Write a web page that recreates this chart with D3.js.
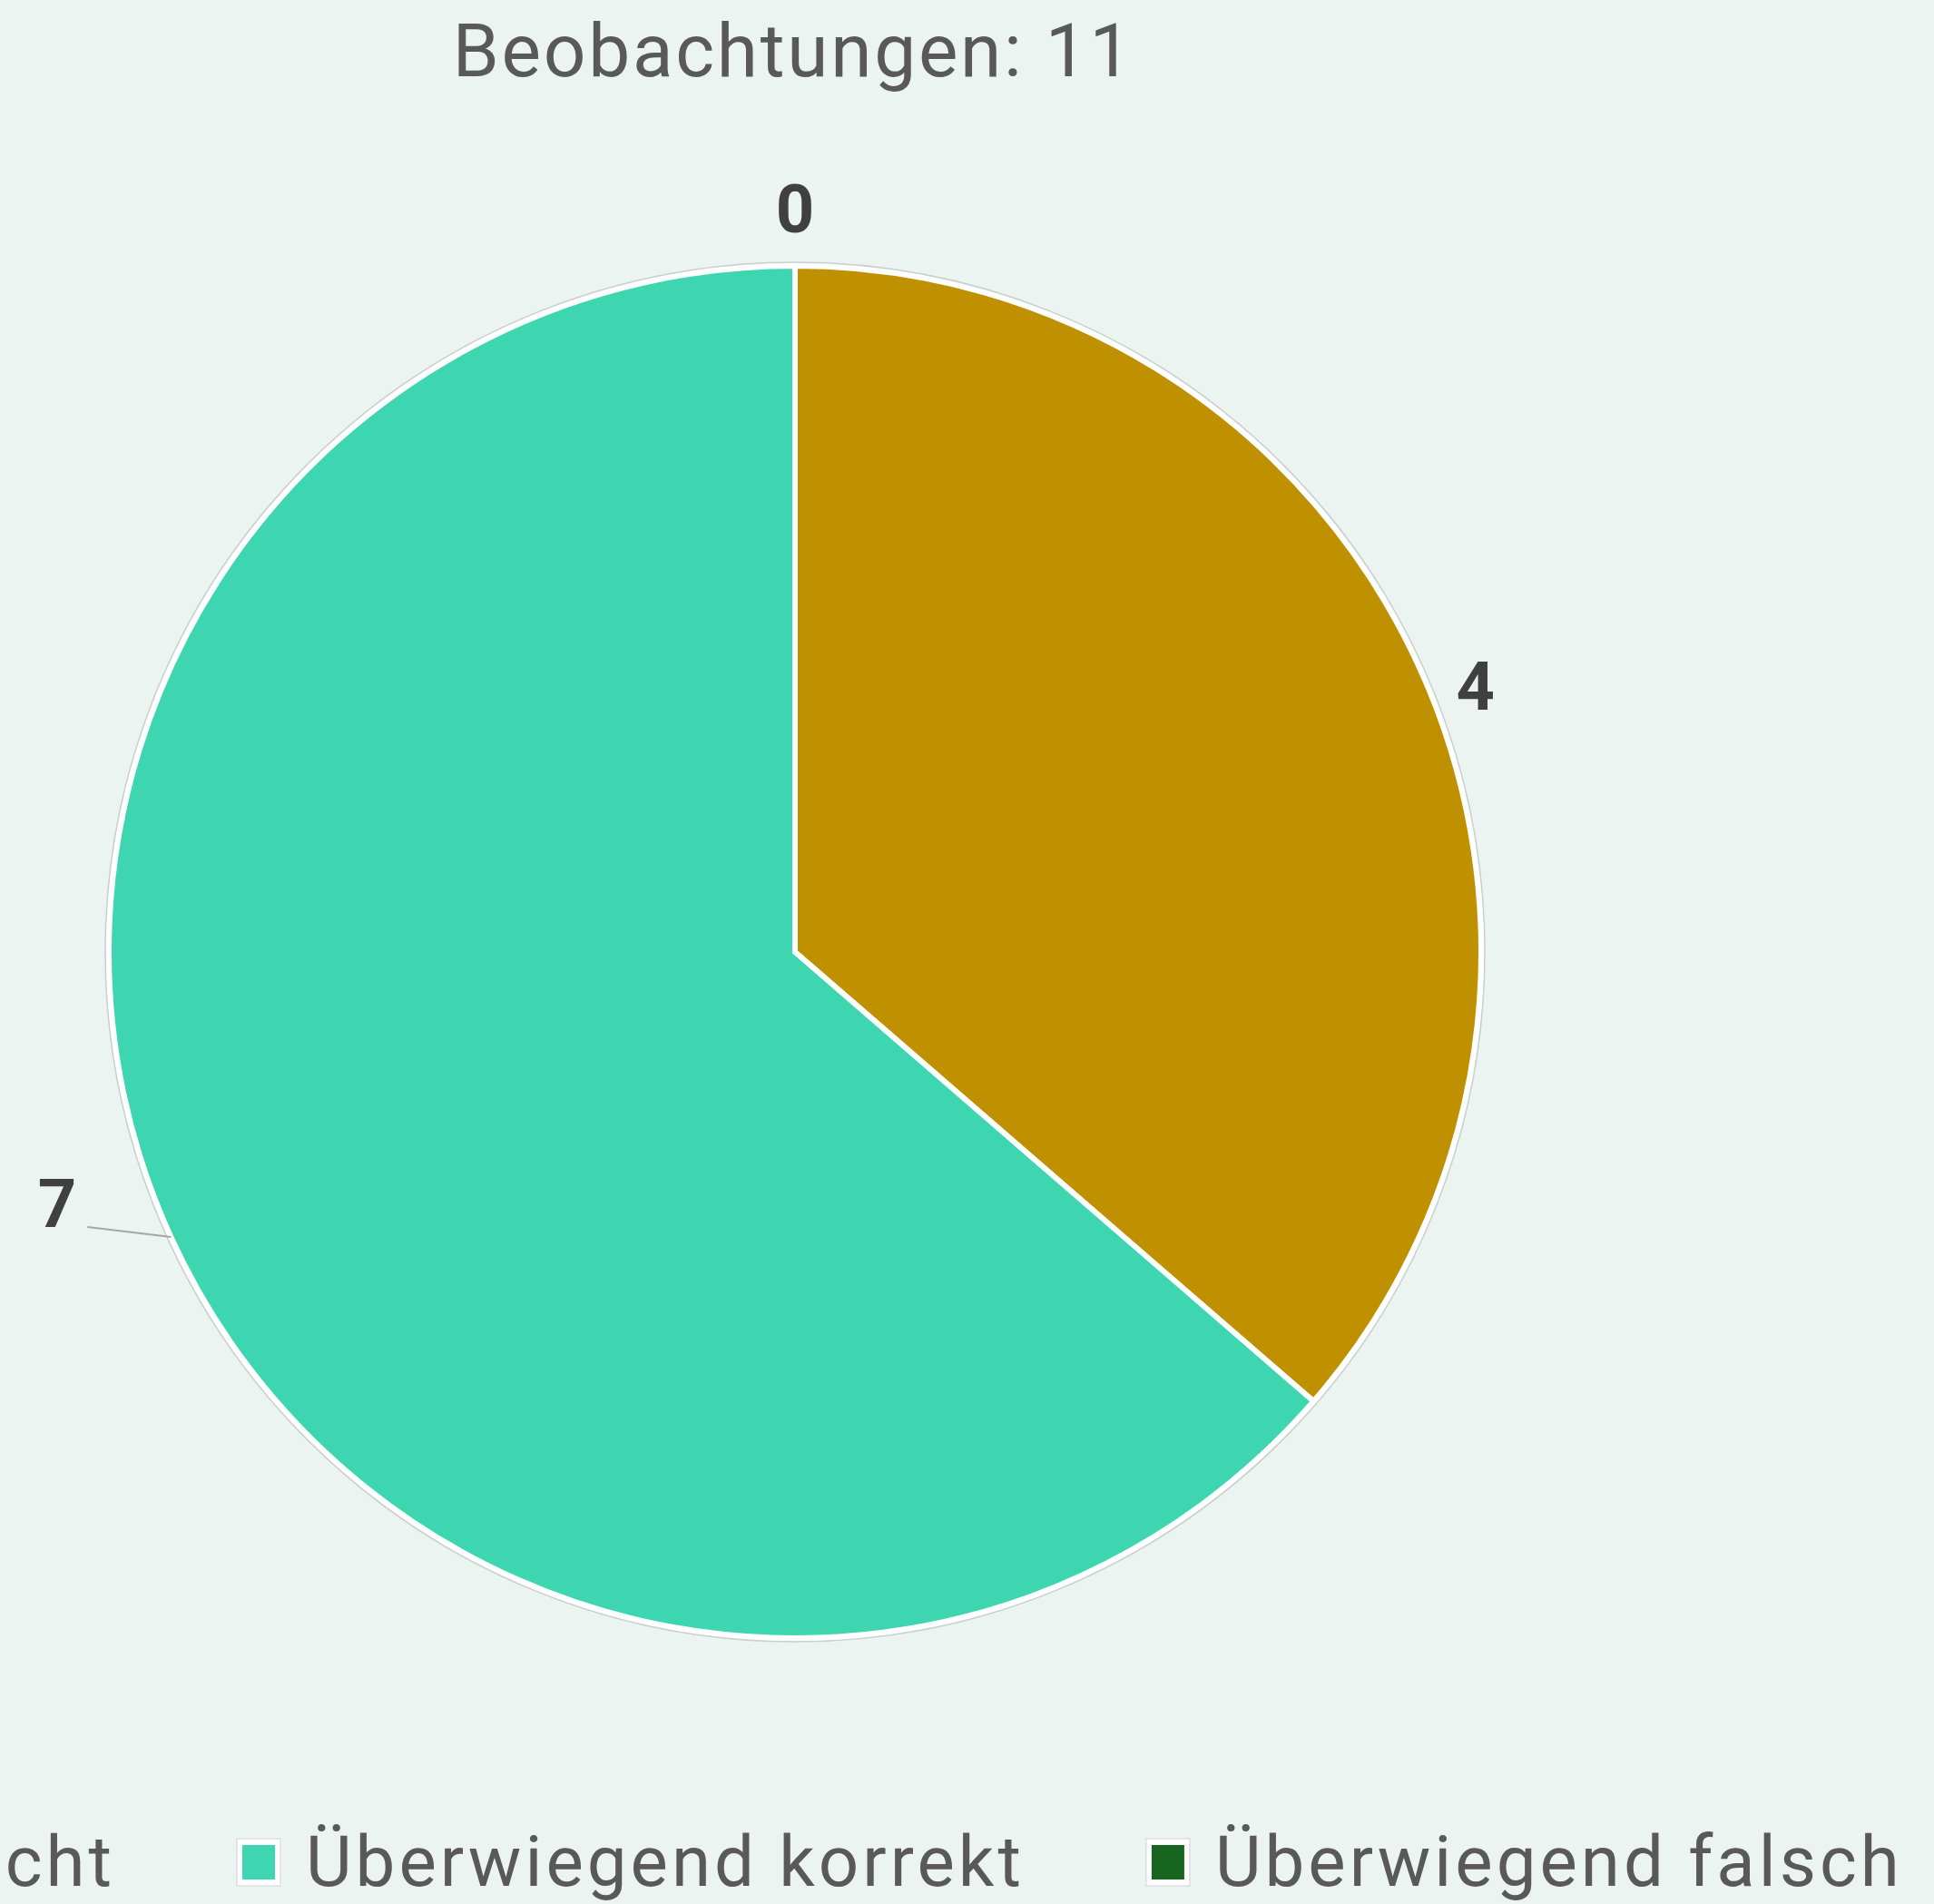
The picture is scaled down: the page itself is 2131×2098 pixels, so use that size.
<!DOCTYPE html>
<html lang="de">
<head>
<meta charset="UTF-8">
<title>Beobachtungen</title>
<script src="https://d3js.org/d3.v7.min.js"></script>
<style>
  html, body { margin: 0; padding: 0; background: #ecf4f2; overflow: hidden; }
  svg { display: block; }
</style>
</head>
<body>
<svg id="chart"></svg>
<script>
const categories = ["Nicht erreicht", "Überwiegend korrekt", "Überwiegend falsch"];
const values = [4, 7, 0];
const colors = ["#bf9000", "#3dd6b0", "#17651e"];
const title = "Beobachtungen: 11";

const width = 2131, height = 2098;
const cx = 876, cy = 1049, r = 756;
const fontFam = "Roboto, 'Liberation Sans', Arial, sans-serif";

const svg = d3.select("#chart").attr("width", width).attr("height", height);

svg.append("rect").attr("width", width).attr("height", height).attr("fill", "#ecf4f2");

svg.append("text")
  .attr("x", cx - 2).attr("y", 84)
  .attr("text-anchor", "middle")
  .attr("font-family", fontFam)
  .attr("font-size", 82)
  .attr("letter-spacing", 2.7)
  .attr("fill", "#595959")
  .text(title);

const pie = d3.pie().sort(null).value(d => d)(values);
const arc = d3.arc().innerRadius(0).outerRadius(r);

const g = svg.append("g").attr("transform", `translate(${cx},${cy})`);

// thin outer ring
g.append("circle").attr("r", r + 4).attr("fill", "none")
  .attr("stroke", "#c9cfcd").attr("stroke-width", 1.5);

g.selectAll("path.slice")
  .data(pie)
  .join("path")
  .attr("class", "slice")
  .attr("d", arc)
  .attr("fill", (d, i) => colors[i])
  .attr("stroke", "#ffffff")
  .attr("stroke-width", 6)
  .attr("stroke-linejoin", "round");

// data labels
pie.forEach((d, i) => {
  const a = (d.startAngle + d.endAngle) / 2;
  const sx = Math.sin(a), sy = -Math.cos(a);
  const px = sx * r, py = sy * r;
  const lbl = g.append("text")
    .attr("font-family", fontFam)
    .attr("font-weight", "bold")
    .attr("font-size", 74)
    .attr("fill", "#404040")
    .text(values[i]);
  if (px < -1) {
    // left side: leader line
    const ex = px - 92, ey = py - 11;
    g.append("path")
      .attr("d", `M${px},${py}L${ex},${ey}`)
      .attr("stroke", "#a6a6a6").attr("stroke-width", 2).attr("fill", "none");
    lbl.attr("x", ex - 12).attr("y", ey).attr("text-anchor", "end");
  } else if (px > 1) {
    const q = r + 45;
    lbl.attr("x", sx * q).attr("y", sy * q + 66).attr("text-anchor", "start");
  } else {
    const q = r + 37;
    lbl.attr("x", sx * q).attr("y", sy * q).attr("text-anchor", "middle");
  }
});

// legend: items laid out left to right, second item anchored at x = 261
const legendY = 2052;
const swatchW = 48, textGap = 28, itemGap = 134;
const items = categories.map((c, i) => {
  const lg = svg.append("g");
  lg.append("rect")
    .attr("x", 0).attr("y", -26).attr("width", swatchW).attr("height", 52)
    .attr("fill", "#ffffff").attr("stroke", "#d0d0d0").attr("stroke-width", 1);
  lg.append("rect")
    .attr("x", 6).attr("y", -19).attr("width", swatchW - 12).attr("height", 38)
    .attr("fill", colors[i]);
  const t = lg.append("text")
    .attr("x", swatchW + textGap).attr("y", 26)
    .attr("font-family", fontFam)
    .attr("font-size", 78)
    .attr("letter-spacing", 4.0)
    .attr("fill", "#595959")
    .text(c);
  return { lg, w: swatchW + textGap + t.node().getComputedTextLength() };
});
let xs = [];
xs[1] = 261;
xs[0] = xs[1] - itemGap - items[0].w;
for (let i = 2; i < items.length; i++) xs[i] = xs[i - 1] + items[i - 1].w + itemGap;
items.forEach((it, i) => it.lg.attr("transform", `translate(${xs[i]},${legendY})`));
</script>
</body>
</html>
